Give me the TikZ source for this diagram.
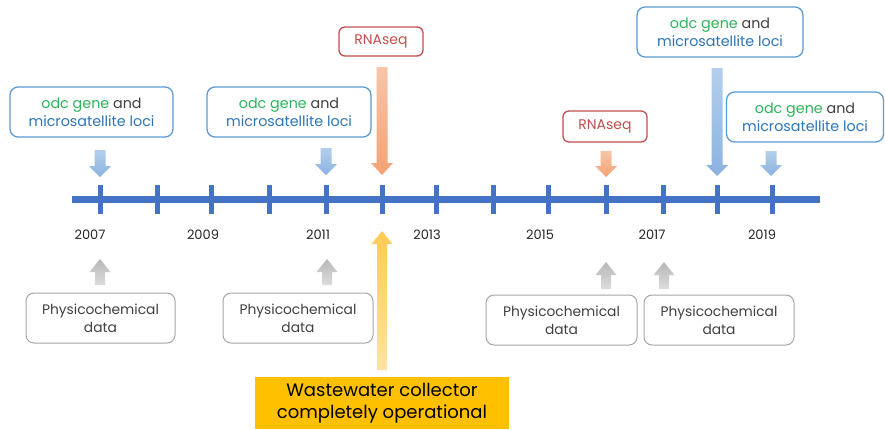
\documentclass[tikz,border=0pt]{standalone}
\usepackage{fontspec}
\setmainfont{Poppins}
\definecolor{tlblue}{HTML}{4472C4}
\definecolor{bxblue}{HTML}{5B9BD5}
\definecolor{txblue}{HTML}{2E75B6}
\definecolor{txgreen}{HTML}{2DB35A}
\definecolor{txgray}{HTML}{404040}
\definecolor{rnared}{HTML}{C0504D}
\definecolor{gybox}{HTML}{A6A6A6}
\definecolor{wwyellow}{HTML}{FFC000}
\definecolor{arBlueTop}{HTML}{B4CFEC}
\definecolor{arBlueBot}{HTML}{8AB2E0}
\definecolor{arOrTop}{HTML}{F8C5A8}
\definecolor{arOrBot}{HTML}{F4A274}
\definecolor{arYeTop}{HTML}{FFCB55}
\definecolor{arYeBot}{HTML}{FFE3A0}
\definecolor{arGyTop}{HTML}{B8B8B8}
\definecolor{arGyBot}{HTML}{DCDCDC}
\newcommand\blockdown[6]{\shade[top color=#5,bottom color=#6] (#1-5.5,#2) -- (#1+5.5,#2) -- (#1+5.5,#3) -- (#1+11,#3) -- (#1,#4) -- (#1-11,#3) -- (#1-5.5,#3) -- cycle;}
\newcommand\blockup[6]{\shade[top color=#5,bottom color=#6] (#1-5,#2) -- (#1+5,#2) -- (#1+5,#3) -- (#1+10.5,#3) -- (#1,#4) -- (#1-10.5,#3) -- (#1-5,#3) -- cycle;}
\newcommand\odcmic{{\color{txgreen}odc gene} {\color{txgray}and}\\{\color{txblue}microsatellite loci}}
\begin{document}
\begin{tikzpicture}[x=1pt,y=-1pt,
  bluebox/.style={draw=bxblue,line width=1.3pt,rounded corners=8pt,fill=white,align=center,
    minimum height=50pt,inner sep=0pt,font=\fontsize{14.3}{18}\selectfont},
  rnabox/.style={draw=rnared,line width=1.3pt,rounded corners=6pt,fill=white,align=center,
    text=rnared,inner sep=0pt,minimum width=84pt,font=\fontsize{14}{16}\selectfont},
  physbox/.style={draw=gybox,line width=1pt,rounded corners=8pt,fill=white,align=center,text=txgray,
    inner sep=0pt,minimum width=150pt,minimum height=50pt,font=\fontsize{13.8}{18}\selectfont},
  year/.style={text=black!85,font=\fontsize{13}{15}\selectfont,inner sep=0pt},
  tick/.style={tlblue,line width=5pt}]
\useasboundingbox (0,0) rectangle (885,429);
% timeline
\draw[tlblue,line width=7pt] (72,199) coordinate (tlstart) -- (820,199) coordinate (tlend);
\foreach \n/\x in {1/100,2/157,3/211,4/269,5/326,6/382,7/436,8/493,9/548,10/606,11/663,12/717,13/772}{
  \coordinate (t\n) at (\x,199);
  \draw[tick] (\x,185) -- (\x,214);
}
% years
\foreach \x/\y in {90/2007,203/2009,318/2011,427/2013,540/2015,652/2017,762/2019}{
  \node[year] (y\y) at (\x,235) {\y};
}
% top boxes
\node[bluebox,minimum width=163pt] (g1) at (91.5,112) {\odcmic};
\node[bluebox,minimum width=164pt] (g2) at (289,112) {\odcmic};
\node[bluebox,minimum width=166pt] (g3) at (720,32) {\odcmic};
\node[bluebox,minimum width=157pt] (g4) at (805,117) {\odcmic};
\node[rnabox,minimum height=29pt] (r1) at (381,41.5) {RNAseq};
\node[rnabox,minimum height=31pt] (r2) at (605,126.5) {RNAseq};
% down arrows
\blockdown{100}{150}{166}{177}{arBlueTop}{arBlueBot}
\blockdown{326}{148}{164}{175}{arBlueTop}{arBlueBot}
\blockdown{382}{67}{163}{175}{arOrTop}{arOrBot}
\blockdown{606}{151}{166}{177}{arOrTop}{arOrBot}
\blockdown{717}{68}{165}{176}{arBlueTop}{arBlueBot}
\blockdown{771}{151}{165}{176}{arBlueTop}{arBlueBot}
% up arrows
\blockup{100}{285}{272}{259}{arGyTop}{arGyBot}
\blockup{327}{285}{272}{259}{arGyTop}{arGyBot}
\blockup{606}{289}{275}{262}{arGyTop}{arGyBot}
\blockup{664}{289}{275}{262}{arGyTop}{arGyBot}
\blockup{382}{370}{244}{231}{arYeTop}{arYeBot}
% physicochemical boxes
\node[physbox,minimum width=149pt] (p1) at (100.5,318) {Physicochemical\\data};
\node[physbox] (p2) at (298,318) {Physicochemical\\data};
\node[physbox,minimum width=151pt] (p3) at (561.5,320) {Physicochemical\\data};
\node[physbox] (p4) at (719,320) {Physicochemical\\data};
% wastewater
\node[fill=wwyellow,minimum width=254pt,minimum height=52pt,inner sep=0pt,align=center,
  font=\fontsize{18}{22}\selectfont] (ww) at (382,403) {Wastewater collector\\completely operational};
\end{tikzpicture}
\end{document}
